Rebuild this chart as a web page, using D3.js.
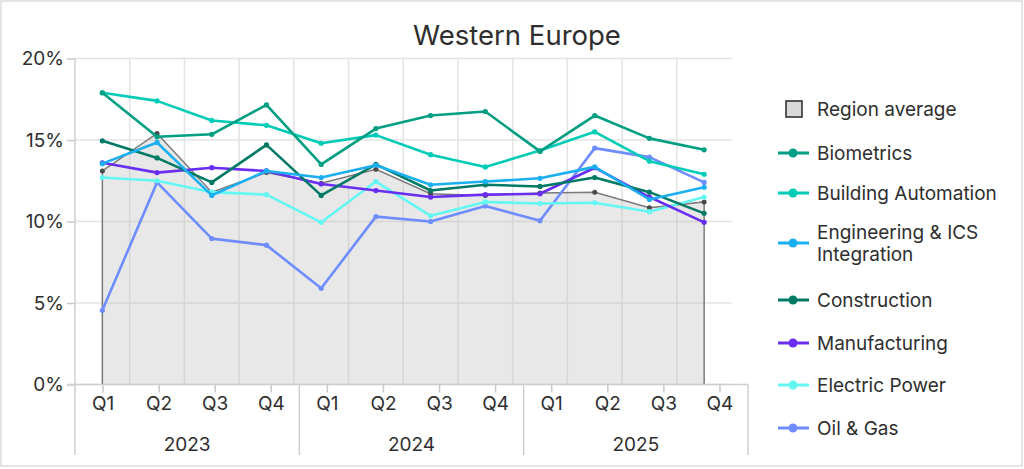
<!DOCTYPE html>
<html>
<head>
<meta charset="utf-8">
<script src="https://cdn.jsdelivr.net/npm/d3@7/dist/d3.min.js"></script>
<style>
  html, body { margin: 0; padding: 0; background: #fff; }
  svg { display: block; font-family: Inter, "Noto Sans", sans-serif; }
</style>
</head>
<body>
<svg id="chart" width="1024" height="469"></svg>
<script>
const years = ["2023", "2024", "2025"];
const quarters = ["Q1", "Q2", "Q3", "Q4"];
const yTicks = [0, 5, 10, 15, 20];

const regionAverage      = [13.1, 15.4, 11.8, 13.0, 12.35, 13.2, 11.7, 11.6, 11.75, 11.8, 10.85, 11.2];
const biometrics         = [17.9, 15.2, 15.35, 17.15, 13.5, 15.7, 16.5, 16.75, 14.3, 16.5, 15.1, 14.4];
const buildingAutomation = [17.9, 17.4, 16.2, 15.9, 14.8, 15.3, 14.1, 13.35, 14.35, 15.5, 13.7, 12.9];
const engineeringICS     = [13.55, 14.85, 11.6, 13.1, 12.7, 13.45, 12.25, 12.45, 12.65, 13.35, 11.35, 12.1];
const construction       = [14.95, 13.9, 12.4, 14.7, 11.6, 13.5, 11.9, 12.25, 12.15, 12.7, 11.8, 10.5];
const manufacturing      = [13.6, 13.0, 13.3, 13.1, 12.3, 11.9, 11.5, 11.65, 11.7, 13.3, 11.5, 9.95];
const electricPower      = [12.7, 12.5, 11.8, 11.65, 9.95, 12.45, 10.35, 11.2, 11.1, 11.15, 10.6, 11.5];
const oilGas             = [4.55, 12.4, 8.95, 8.55, 5.9, 10.3, 10.0, 10.95, 10.05, 14.5, 13.95, 12.4];

const seriesNames  = ["Biometrics", "Building Automation", "Engineering & ICS Integration", "Construction", "Manufacturing", "Electric Power", "Oil & Gas"];
const seriesValues = [biometrics, buildingAutomation, engineeringICS, construction, manufacturing, electricPower, oilGas];
const seriesColors = ["#009e82", "#00cbb6", "#1aaff0", "#007a64", "#6a2ef2", "#62f7f2", "#6f8dff"];

const svg = d3.select("#chart");
const W = 1024, H = 469;
const plotL = 75, plotR = 731.5, axisR = 748;
const yTop = 58.5, yBot = 384.5;
const textColor = "#2e2e2e";

const idx = d3.range(years.length * quarters.length);
const cats = idx.map(i => years[Math.floor(i / 4)] + "-" + quarters[i % 4]);

const xPlot = d3.scaleBand().domain(cats).range([plotL, plotR]);
const xPt = c => xPlot(c) + xPlot.bandwidth() / 2;
const xAxisBand = d3.scaleBand().domain(cats).range([plotL, axisR]);
const xYear = d3.scaleBand().domain(years).range([plotL, axisR]);
const y = d3.scaleLinear().domain([0, 20]).range([yBot, yTop]);

// outer border
svg.append("rect").attr("x", 1).attr("y", 1).attr("width", W - 3).attr("height", H - 4)
  .attr("fill", "none").attr("stroke", "#dcdcdc").attr("stroke-width", 1.5);

// title
svg.append("text").attr("x", 517).attr("y", 45).attr("text-anchor", "middle")
  .attr("font-size", 27.5).attr("fill", textColor).text("Western Europe");

// horizontal grid
svg.append("g").selectAll("line").data(yTicks).join("line")
  .attr("x1", plotL).attr("x2", plotR)
  .attr("y1", d => y(d)).attr("y2", d => y(d))
  .attr("stroke", "#e3e3e3").attr("stroke-width", 1.5);

// vertical grid at band edges
svg.append("g").selectAll("line").data(cats.slice(1)).join("line")
  .attr("x1", d => xPlot(d)).attr("x2", d => xPlot(d))
  .attr("y1", yTop).attr("y2", yBot)
  .attr("stroke", "#e3e3e3").attr("stroke-width", 1.5);

// area of region average
const areaGen = d3.area().x((d, i) => xPt(cats[i])).y0(y(0)).y1(d => y(d));
svg.append("path").datum(regionAverage).attr("d", areaGen)
  .attr("fill", "rgba(190,190,190,0.35)").attr("stroke", "none");
const outline = [[xPt(cats[0]), y(0)]]
  .concat(regionAverage.map((d, i) => [xPt(cats[i]), y(d)]))
  .concat([[xPt(cats[cats.length - 1]), y(0)]]);
svg.append("path").attr("d", d3.line()(outline))
  .attr("fill", "none").attr("stroke", "#7a7a7a").attr("stroke-width", 1.5);
svg.append("g").selectAll("circle").data(regionAverage).join("circle")
  .attr("cx", (d, i) => xPt(cats[i])).attr("cy", d => y(d)).attr("r", 2.5)
  .attr("fill", "#4a4a4a");

// series lines
const lineGen = d3.line().x((d, i) => xPt(cats[i])).y(d => y(d));
const order = [6, 5, 4, 3, 2, 1, 0];
order.forEach(k => {
  const g = svg.append("g");
  g.append("path").datum(seriesValues[k]).attr("d", lineGen)
    .attr("fill", "none").attr("stroke", seriesColors[k]).attr("stroke-width", 2.6)
    .attr("stroke-linejoin", "round");
  g.selectAll("circle").data(seriesValues[k]).join("circle")
    .attr("cx", (d, i) => xPt(cats[i])).attr("cy", d => y(d)).attr("r", 2.6)
    .attr("fill", seriesColors[k]);
});

// Y axis
const yAxis = d3.axisLeft(y).tickValues(yTicks).tickFormat(d => d + "%").tickSize(8).tickPadding(3);
const gy = svg.append("g").attr("transform", `translate(${plotL},0)`).call(yAxis);
gy.select(".domain").remove();
gy.selectAll(".tick line").attr("stroke", "#c8c8c8").attr("stroke-width", 1.5);
gy.selectAll(".tick text").attr("font-size", 19).attr("fill", textColor).attr("font-family", "Inter, sans-serif");

// left axis line (continues into year row)
svg.append("line").attr("x1", plotL).attr("x2", plotL).attr("y1", yTop).attr("y2", 455)
  .attr("stroke", "#cfcfcf").attr("stroke-width", 1.5);
// bottom axis line
svg.append("line").attr("x1", 67).attr("x2", axisR).attr("y1", yBot).attr("y2", yBot)
  .attr("stroke", "#cfcfcf").attr("stroke-width", 1.5);

// X axis quarters
const xAxis = d3.axisBottom(xAxisBand).tickFormat(c => c.split("-")[1]).tickSize(8).tickPadding(4);
const gx = svg.append("g").attr("transform", `translate(0,${yBot})`).call(xAxis);
gx.select(".domain").remove();
gx.selectAll(".tick line").attr("stroke", "#c8c8c8").attr("stroke-width", 1.5);
gx.selectAll(".tick text").attr("font-size", 19).attr("fill", textColor).attr("font-family", "Inter, sans-serif");

// year dividers and labels
svg.append("g").selectAll("line").data(years.slice(1).concat(["end"])).join("line")
  .attr("x1", d => d === "end" ? axisR : xYear(d)).attr("x2", d => d === "end" ? axisR : xYear(d))
  .attr("y1", yBot).attr("y2", 455)
  .attr("stroke", "#cfcfcf").attr("stroke-width", 1.5);
svg.append("g").selectAll("text").data(years).join("text")
  .attr("x", d => xYear(d) + xYear.bandwidth() / 2).attr("y", 451)
  .attr("text-anchor", "middle").attr("font-size", 19).attr("fill", textColor).text(d => d);

// legend
const lg = svg.append("g");
const lx = 817;
lg.append("rect").attr("x", 786).attr("y", 101).attr("width", 16).attr("height", 16)
  .attr("fill", "#d9d9d9").attr("stroke", "#333").attr("stroke-width", 1.6);
lg.append("text").attr("x", lx).attr("y", 109).attr("dy", "0.35em").attr("font-size", 19)
  .attr("fill", textColor).text("Region average");
const legY = [153, 193, 243, 300, 343, 385, 428];
seriesNames.forEach((name, k) => {
  const yy = legY[k];
  lg.append("line").attr("x1", 778).attr("x2", 809).attr("y1", yy).attr("y2", yy)
    .attr("stroke", seriesColors[k]).attr("stroke-width", 3);
  lg.append("circle").attr("cx", 793).attr("cy", yy).attr("r", 4.5).attr("fill", seriesColors[k]);
  const t = lg.append("text").attr("x", lx).attr("y", yy).attr("font-size", 19).attr("fill", textColor);
  if (name === "Engineering & ICS Integration") {
    t.append("tspan").attr("x", lx).attr("y", yy - 11).attr("dy", "0.35em").text("Engineering & ICS");
    t.append("tspan").attr("x", lx).attr("y", yy + 11).attr("dy", "0.35em").text("Integration");
  } else {
    t.attr("dy", "0.35em").text(name);
  }
});
</script>
</body>
</html>
